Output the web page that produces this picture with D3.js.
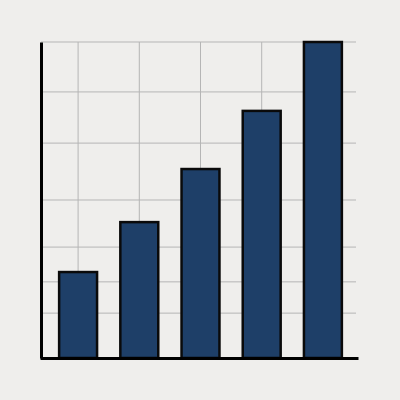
<!DOCTYPE html>
<html><head><meta charset="utf-8">
<script src="https://cdn.jsdelivr.net/npm/d3@7"></script>
<style>html,body{margin:0;background:#efeeec;}</style></head>
<body><svg id="c" width="400" height="400"></svg>
<script>
const categories = ["A","B","C","D","E"];
const values = [27.2, 43.0, 59.8, 78.2, 100];
const gridValues = [14.2, 24.1, 35.1, 50, 68, 84.2, 100];

const svg = d3.select("#c");
svg.append("rect").attr("width",400).attr("height",400).attr("fill","#efeeec");
const x = d3.scaleBand().domain(categories).range([47.5,353.5]).paddingInner(0.38).paddingOuter(0.19);
const y = d3.scaleLinear().domain([0,100]).range([358,42]);
const g = svg.append("g");
g.selectAll(".hg").data(gridValues).join("line")
  .attr("x1",41).attr("x2",356).attr("y1",d=>y(d)).attr("y2",d=>y(d))
  .attr("stroke","#b5b5b5").attr("stroke-width",1);
g.selectAll(".vg").data(categories).join("line")
  .attr("x1",d=>x(d)+x.bandwidth()/2).attr("x2",d=>x(d)+x.bandwidth()/2)
  .attr("y1",y(100)).attr("y2",358)
  .attr("stroke","#b5b5b5").attr("stroke-width",1);
g.selectAll(".bar").data(values).join("rect")
  .attr("x",(d,i)=>x(categories[i])).attr("width",x.bandwidth())
  .attr("y",d=>y(d)).attr("height",d=>y(0)-y(d))
  .attr("fill","#1e3f68").attr("stroke","#0a0a0a").attr("stroke-width",2.5);
svg.append("g").attr("transform","translate(41,0)")
  .call(d3.axisLeft(y).ticks(0).tickSize(0)).call(a=>a.select(".domain").attr("stroke","#000").attr("stroke-width",3));
svg.append("g").attr("transform","translate(0,358)")
  .call(d3.axisBottom(d3.scaleLinear().range([40,358])).ticks(0).tickSize(0)).call(a=>a.select(".domain").attr("stroke","#000").attr("stroke-width",3));
</script></body></html>
